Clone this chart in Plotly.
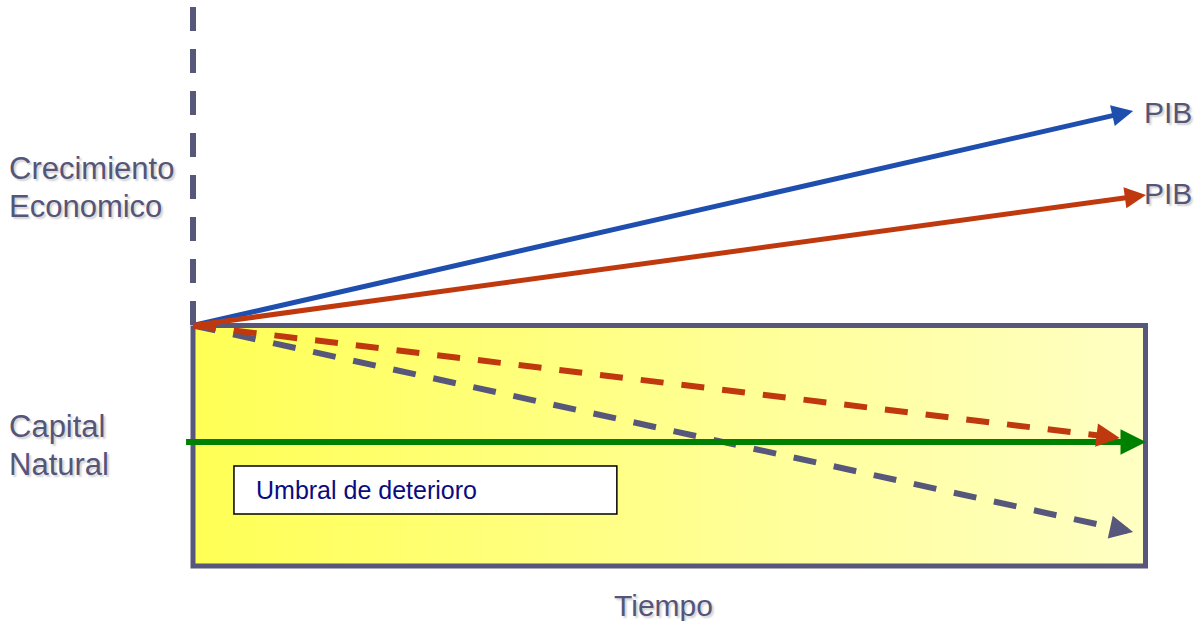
import plotly.graph_objects as go

# Conceptual coordinates: time 0..100, level 0 at origin, box bottom at -100
time_start = 0
time_end = 100
box_bottom = -100

pib_blue_end = (98.7, 89.2)
pib_red_end = (100.05, 54.3)
natural_red_end = (97.3, -46.8)
natural_grey_end = (98.7, -85.9)
threshold_level = -48.4
threshold_start = -0.73
threshold_end = 100.05
umbral_box = (4.3, 44.5, -58.4, -78.4)
axis_top = 132.4

labels_growth = ["Crecimiento", "Economico"]
labels_natural = ["Capital", "Natural"]
label_pib = "PIB"
label_time = "Tiempo"
label_umbral = "Umbral de deterioro"

# pixel scales
PX_X = 9.525
PX_Y = 2.405
W, H = 1204, 621
ORIGIN_PX = (193, 325.5)
x_range = [-ORIGIN_PX[0] / PX_X, (W - ORIGIN_PX[0]) / PX_X]
y_range = [-(H - ORIGIN_PX[1]) / PX_Y, ORIGIN_PX[1] / PX_Y]

def ypx(py):
    return (ORIGIN_PX[1] - py) / PX_Y

def xpx(px):
    return (px - ORIGIN_PX[0]) / PX_X

BLUE = "#1f4fae"
RED = "#c0390e"
SLATE = "#56577a"
GREEN = "#008000"
TXT = "#55557a"
FONT = "Liberation Sans"
SHADOW = "2px 2px 2px #cfcfcf"

fig = go.Figure()

# gradient filled box
fig.add_trace(go.Scatter(
    x=[time_start, time_end, time_end, time_start, time_start],
    y=[0, 0, box_bottom, box_bottom, 0],
    mode="lines", fill="toself",
    fillgradient=dict(type="horizontal",
                      colorscale=[[0, "#ffff55"], [0.5, "#ffff8e"], [1, "#ffffc4"]]),
    line=dict(color=SLATE, width=5), hoverinfo="skip", showlegend=False))

# vertical dashed axis (drawn from top down)
fig.add_trace(go.Scatter(
    x=[time_start, time_start], y=[axis_top, 0], mode="lines",
    line=dict(color=SLATE, width=6, dash="24px,18px"),
    hoverinfo="skip", showlegend=False))

def arrow_line(end, color, width, dash="solid", start=(0.0, 0.0), head=1.0, back=11.0):
    # line from start to a point just before the tip, then an arrowhead
    dx_px = (end[0] - start[0]) * PX_X
    dy_px = (end[1] - start[1]) * PX_Y
    L = (dx_px ** 2 + dy_px ** 2) ** 0.5
    bx = end[0] - dx_px / L * back / PX_X
    by = end[1] - dy_px / L * back / PX_Y
    fig.add_trace(go.Scatter(
        x=[start[0], bx], y=[start[1], by], mode="lines",
        line=dict(color=color, width=width, dash=dash),
        hoverinfo="skip", showlegend=False))
    tx = end[0] - dx_px / L * 20 / PX_X
    ty = end[1] - dy_px / L * 20 / PX_Y
    fig.add_annotation(x=end[0], y=end[1], ax=tx, ay=ty, axref="x", ayref="y",
                       xref="x", yref="y", text="", showarrow=True,
                       arrowhead=2, arrowsize=head, arrowwidth=width,
                       arrowcolor=color)

arrow_line(natural_grey_end, SLATE, 6, dash="23px,18px", head=0.78)
arrow_line(natural_red_end, RED, 6, dash="23px,18px", head=0.78)
arrow_line((threshold_end, threshold_level), GREEN, 6,
           start=(threshold_start, threshold_level), head=0.85)
arrow_line(pib_blue_end, BLUE, 5, head=0.85)
arrow_line(pib_red_end, RED, 5, head=0.85)

# Umbral box
x0, x1, y0, y1 = umbral_box
fig.add_shape(type="rect", x0=x0, x1=x1, y0=y0, y1=y1,
              fillcolor="white", line=dict(color="black", width=1.5))
fig.add_annotation(x=xpx(254), y=(y0 + y1) / 2, text=label_umbral,
                   showarrow=False, xanchor="left", yanchor="middle",
                   font=dict(family=FONT, size=25, color="#0b0b80"))

def label(x, y, text, anchor="left", size=31):
    fig.add_annotation(x=x, y=y, text=text, showarrow=False,
                       xanchor=anchor, yanchor="middle",
                       font=dict(family=FONT, size=size, color=TXT, shadow=SHADOW))

lx = xpx(7)
label(lx, ypx(168), labels_growth[0])
label(lx, ypx(206), labels_growth[1])
label(lx, ypx(426), labels_natural[0])
label(lx, ypx(464), labels_natural[1])
label(xpx(1142), ypx(112), label_pib, size=30)
label(xpx(1142), ypx(193), label_pib, size=30)
label(xpx(663), ypx(605), label_time, anchor="center", size=30)

fig.update_layout(
    width=W, height=H, margin=dict(l=0, r=0, t=0, b=0),
    paper_bgcolor="white", plot_bgcolor="white",
    xaxis=dict(range=x_range, visible=False, fixedrange=True),
    yaxis=dict(range=y_range, visible=False, fixedrange=True),
)

fig.write_html("out.html", post_script="document.body.style.margin='0';",
               config={"displayModeBar": False})
